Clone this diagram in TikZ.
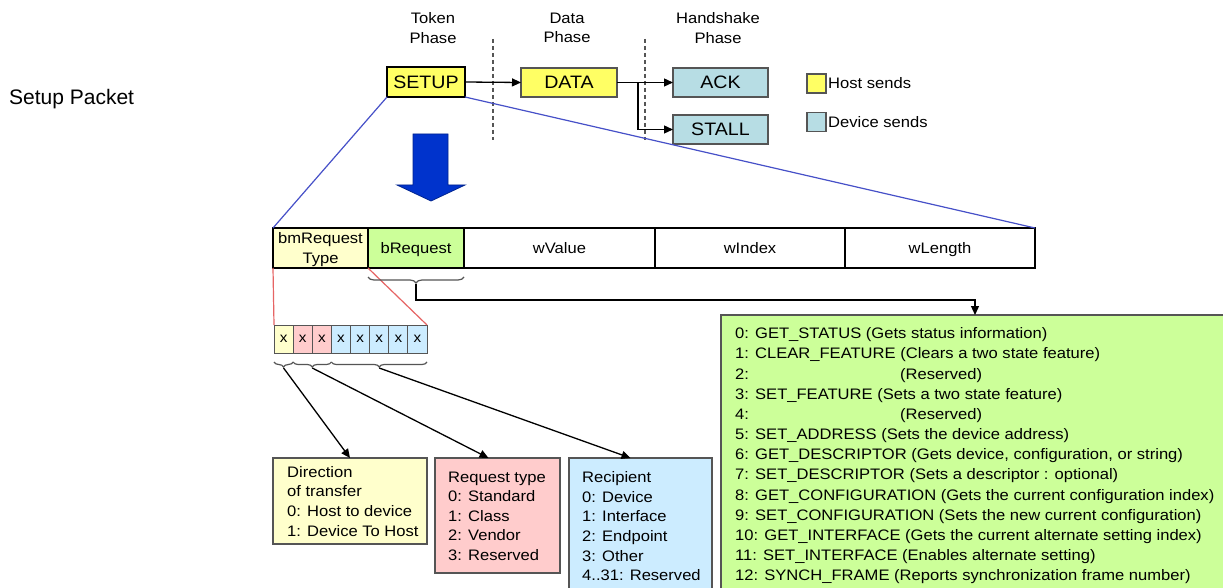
\documentclass[tikz,border=0pt]{standalone}
\usepackage{fontspec}
\setmainfont{Liberation Sans}[FakeStretch=1.09]
\newfontfamily\plainsans{Liberation Sans}
\usetikzlibrary{arrows.meta,decorations.pathreplacing}
\definecolor{hostyellow}{RGB}{255,255,100}
\definecolor{devcyan}{RGB}{183,221,228}
\definecolor{lyellow}{RGB}{255,255,204}
\definecolor{lgreen}{RGB}{204,255,153}
\definecolor{lpink}{RGB}{255,204,204}
\definecolor{lblue}{RGB}{204,236,255}
\definecolor{boxgray}{RGB}{85,85,85}
\definecolor{blueln}{RGB}{70,80,200}
\definecolor{bigblue}{RGB}{0,51,204}
\definecolor{redln}{RGB}{230,100,100}
\newcommand\nfont{\fontsize{15.2}{19.6}\selectfont}
\newcommand\gfont{\fontsize{15.2}{20.15}\selectfont}
\begin{document}
\begin{tikzpicture}[x=1pt,y=-1pt,
  box/.style={draw=boxgray, line width=1.2pt, inner sep=0pt, outer sep=0pt},
  phasebox/.style={box, minimum height=29pt, text height=12.9pt, text depth=0pt,
     font=\fontsize{18}{20}\selectfont},
  cell/.style={draw=black, line width=1.3pt, minimum height=40pt, inner sep=0pt,
     outer sep=0pt, font=\nfont, align=center, text height=10.9pt, text depth=0pt},
  bitcell/.style={draw=boxgray, line width=1pt, minimum width=19.125pt, minimum height=28pt,
     inner sep=0pt, outer sep=0pt, text height=7.3pt, text depth=0pt, font=\fontsize{14}{16}\selectfont},
  arr/.style={-{Triangle[length=9pt,width=8pt]}, line width=1.3pt, black},
  txt/.style={font=\nfont, inner sep=0pt, align=left},
  phasetxt/.style={font=\nfont, inner sep=0pt, align=center, anchor=north},
  blueline/.style={blueln, line width=1.2pt},
  redline/.style={redln, line width=1.2pt},
  phasesep/.style={boxgray, line width=1.5pt, dash pattern=on 4pt off 3pt},
  bracedec/.style={boxgray, line width=1.2pt, decorate, decoration={brace, mirror, amplitude=6pt}}
]
\clip (0,0) rectangle (1223,588);
\fill[white] (0,0) rectangle (1223,588);

% title
\node[font=\plainsans\fontsize{21}{24}\selectfont, anchor=base west, inner sep=0pt] (title) at (9,105) {Setup Packet};

% phase labels
\node[phasetxt] (tok) at (433,12.5) {Token\\Phase};
\node[phasetxt] (dat) at (567,12.5) {Data\\Phase};
\node[phasetxt] (hsk) at (718,12.5) {Handshake\\Phase};

% phase separators
\draw[phasesep] (493,39) -- (493,140);
\draw[phasesep] (645,39) -- (645,140);

% packets
\node[phasebox, fill=hostyellow, draw=black, line width=2.8pt, minimum width=78pt, minimum height=30pt] (setup) at (426,82) {SETUP};
\node[phasebox, fill=hostyellow, minimum width=96pt] (data) at (569,82.5) {DATA};
\node[phasebox, fill=devcyan, minimum width=95pt] (ack) at (720.5,82.5) {ACK};
\node[phasebox, fill=devcyan, minimum width=95pt] (stall) at (720.5,129.5) {STALL};
\draw[arr] (setup.east) -- (data.west);
\draw[arr] (data.east) -- (ack.west);
\coordinate (br) at (638,82.5);
\draw[arr] (br) |- (stall.west);

% legend
\node[box, fill=hostyellow, minimum width=19pt, minimum height=19pt] (lh) at (816.5,83.5) {};
\node[txt, anchor=west] (lht) at ([xshift=2pt]lh.east) {Host sends};
\node[box, fill=devcyan, minimum width=19pt, minimum height=19pt] (ld) at (816.5,122) {};
\node[txt, anchor=west] (ldt) at ([xshift=2pt]ld.east) {Device sends};

% big blue arrow
\filldraw[fill=bigblue, draw=bigblue!70!black, line width=0.8pt]
  (413,134) -- (448,134) -- (448,185) -- (465,185) -- (431,201) -- (397,185) -- (413,185) -- cycle;

% setup packet fields
\node[cell, fill=lyellow, minimum width=95pt, text height=30.5pt, text depth=-2.5pt] (pkt1) at (320.5,248) {bmRequest\\Type};
\node[cell, fill=lgreen, minimum width=96pt] (pkt2) at (416,248) {bRequest};
\node[cell, fill=white, minimum width=191pt] (pkt3) at (559.5,248) {wValue};
\node[cell, fill=white, minimum width=190pt] (pkt4) at (750,248) {wIndex};
\node[cell, fill=white, minimum width=190pt] (pkt5) at (940,248) {wLength};
\draw[black, line width=2.5pt] (pkt1.north west) rectangle (pkt5.south east);

\draw[blueline] (setup.south west) -- (pkt1.north west);
\draw[blueline] (setup.south east) -- (pkt5.north east);

% bits
\foreach \i/\c in {1/lyellow,2/lpink,3/lpink,4/lblue,5/lblue,6/lblue,7/lblue,8/lblue}{
  \node[bitcell, fill=\c] (b\i) at ({274+19.125*(\i-0.5)},339) {x};
}
\draw[redline] (pkt1.south west) -- (b1.north west);
\draw[redline] (pkt1.south east) -- (b8.north east);

% braces under bits
\draw[bracedec, decoration={amplitude=5pt}] ([yshift=-9pt]b1.south west) -- ([yshift=-9pt]b1.south east);
\draw[bracedec, decoration={amplitude=5pt}] ([yshift=-9pt]b2.south west) -- ([yshift=-9pt]b3.south east);
\draw[bracedec, decoration={amplitude=5pt}] ([yshift=-9pt]b4.south west) -- ([yshift=-9pt]b8.south east);
\coordinate (t1) at ([yshift=-15pt]b1.south);
\coordinate (t2) at ([yshift=-15pt]b2.south east);
\coordinate (t3) at ([yshift=-15pt]b6.south);

% description boxes
\node[box, fill=lyellow, minimum width=154pt, minimum height=86pt, anchor=north west] (dir) at (273,458) {};
\node[txt, anchor=north west] (dirt) at (287,466) {Direction\\of transfer\\0: Host to device\\1: Device To Host};
\node[box, fill=lpink, minimum width=125pt, minimum height=115pt, anchor=north west] (req) at (435,458) {};
\node[txt, anchor=north west] (reqt) at (448,471.5) {Request type\\0: Standard\\1: Class\\2: Vendor\\3: Reserved};
\node[box, fill=lblue, minimum width=143pt, minimum height=145pt, anchor=north west] (rec) at (569,458) {};
\node[txt, anchor=north west] (rect) at (582,471.5) {Recipient\\0: Device\\1: Interface\\2: Endpoint\\3: Other\\4..31: Reserved};

\draw[arr] (t1) -- (dir.north);
\draw[arr] (t2) -- ([xshift=-9pt]req.north);
\draw[arr] (t3) -- ([xshift=-10pt]rec.north);

% bRequest list
\node[box, fill=lgreen, minimum width=530pt, minimum height=290pt, anchor=north west] (gbox) at (721,315) {};
\node[txt, font=\gfont, anchor=north west] (glist) at (735,327.6) {%
0: GET\_STATUS (Gets status information)\\
1: CLEAR\_FEATURE (Clears a two state feature)\\
\makebox[165pt][l]{2:}(Reserved)\\
3: SET\_FEATURE (Sets a two state feature)\\
\makebox[165pt][l]{4:}(Reserved)\\
5: SET\_ADDRESS (Sets the device address)\\
6: GET\_DESCRIPTOR (Gets device, configuration, or string)\\
7: SET\_DESCRIPTOR (Sets a descriptor : optional)\\
8: GET\_CONFIGURATION (Gets the current configuration index)\\
9: SET\_CONFIGURATION (Sets the new current configuration)\\
10: GET\_INTERFACE (Gets the current alternate setting index)\\
11: SET\_INTERFACE (Enables alternate setting)\\
12: SYNCH\_FRAME (Reports synchronization frame number)};

% bRequest brace and arrow
\draw[bracedec] ([yshift=-9pt]pkt2.south west) -- ([yshift=-9pt]pkt2.south east);
\coordinate (bt) at ([yshift=-16pt]pkt2.south);
\coordinate (bend) at (416,300);
\draw[arr] (bt) -- (bend) -| ([xshift=254pt]gbox.north west);
\end{tikzpicture}
\end{document}
